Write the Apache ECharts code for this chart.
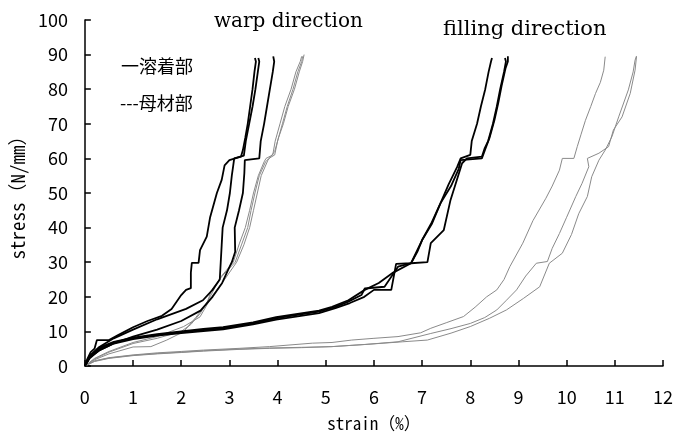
<!DOCTYPE html>
<html><head><meta charset="utf-8">
<script src="https://cdn.jsdelivr.net/npm/echarts@6/dist/echarts.min.js"></script>
<style>html,body{margin:0;padding:0;background:#fff}#c{width:676px;height:438px}</style>
</head><body><div id="c"></div>
<script>
// x tick labels and y tick labels
const xTicks = [0,1,2,3,4,5,6,7,8,9,10,11,12];
const yTicks = [0,10,20,30,40,50,60,70,80,90,100];
// warp direction, 溶着部 (black)
const warpWeld1 = [[0,0],[0.05,2],[0.12,4],[0.2,5],[0.25,7.5],[0.5,7.5],[0.7,9],[1.0,11.2],[1.3,13],[1.6,14.5],[1.8,16.5],[1.9,18.5],[2.0,20.5],[2.1,22],[2.2,22.5],[2.2,27],[2.22,29.8],[2.36,29.8],[2.39,33.5],[2.53,37.4],[2.6,43],[2.74,50],[2.84,53.8],[2.9,58],[3.0,59.5],[3.24,60.5],[3.28,62.4],[3.33,66],[3.38,70],[3.43,75],[3.48,80],[3.52,85],[3.55,88],[3.53,89]];
const warpWeld2 = [[0,0],[0.1,3],[0.3,5.5],[0.6,8],[1.0,10.5],[1.5,13.5],[1.8,15],[2.1,16.5],[2.45,19],[2.65,22],[2.8,25],[2.82,30],[2.84,35],[2.86,40],[2.95,45],[3.01,50],[3.05,55],[3.08,58],[3.1,60],[3.3,60.8],[3.34,65],[3.41,70],[3.48,75],[3.54,80],[3.59,85],[3.62,88],[3.6,89]];
const warpWeld3 = [[0,0],[0.1,2.5],[0.3,4.5],[0.6,6.5],[1.0,8.5],[1.5,10.5],[2.0,13],[2.4,16],[2.65,20],[2.85,24],[2.98,28],[3.05,30],[3.12,33],[3.11,40],[3.2,45],[3.28,50],[3.31,55.7],[3.32,59.5],[3.62,60],[3.65,65],[3.72,70],[3.78,75],[3.84,80],[3.9,85],[3.93,88],[3.91,89.5]];
// warp direction, 母材部 (grey)
const warpBase1 = [[0,0],[0.2,2],[0.5,4],[1.0,6.5],[1.5,8],[2.0,10],[2.2,12],[2.4,15.3],[2.6,20],[2.8,25.4],[3.08,30],[3.21,35.5],[3.33,40],[3.42,45],[3.5,50],[3.6,55],[3.72,59],[3.76,60],[3.9,61],[3.95,65],[4.05,70],[4.15,75],[4.28,80],[4.38,85],[4.47,88],[4.5,89.5]];
const warpBase2 = [[0,0],[0.2,1.8],[0.5,3.5],[1.0,5.5],[1.37,5.6],[1.7,7.5],[2.05,9.9],[2.3,14],[2.53,18],[2.63,22],[2.85,26],[3.12,30],[3.25,35],[3.38,40],[3.45,45],[3.53,50],[3.62,55],[3.75,59],[3.82,60],[3.94,61],[4.0,65],[4.1,70],[4.2,75],[4.32,80],[4.42,85],[4.5,88],[4.52,89.5]];
const warpBase3 = [[0,0],[0.2,2.2],[0.5,4.2],[1.0,6.8],[1.5,8.5],[2.05,11.4],[2.39,14.2],[2.63,20],[2.9,25],[3.15,30],[3.3,35],[3.42,40],[3.5,45],[3.58,50],[3.66,55],[3.8,59.5],[3.94,62],[4.02,66],[4.12,70],[4.22,75],[4.35,80],[4.45,85],[4.52,88],[4.55,90]];
// filling direction, 溶着部 (black)
const fillWeld1 = [[0,0],[0.1,2.5],[0.3,5],[0.6,6.8],[1.0,8],[1.5,9],[2.0,9.8],[2.46,10.4],[2.87,10.9],[3.49,12.3],[3.97,13.8],[4.38,14.7],[4.86,15.7],[5.2,17.1],[5.47,18.6],[5.74,20.5],[5.81,22.4],[6.22,22.9],[6.5,28.7],[6.77,29.7],[7.0,36.4],[7.2,41.5],[7.38,47],[7.55,52.5],[7.73,57.6],[7.8,60],[8.0,61],[8.03,65],[8.14,70],[8.22,75],[8.31,80],[8.38,85],[8.43,88],[8.45,89]];
const fillWeld2 = [[0,0],[0.1,2.2],[0.3,4.6],[0.6,6.5],[1.0,7.8],[1.5,8.8],[2.0,9.5],[2.46,10.1],[2.87,10.6],[3.49,12.0],[3.97,13.4],[4.38,14.3],[4.86,15.3],[5.2,16.7],[5.5,18.2],[5.8,20],[6.0,22],[6.36,22],[6.46,29.5],[6.77,29.7],[7.11,30],[7.18,35.5],[7.45,39.3],[7.59,48],[7.83,58.6],[7.93,60],[8.24,60.5],[8.3,63],[8.37,65],[8.47,70],[8.55,75],[8.62,80],[8.7,85],[8.74,88],[8.72,89]];
const fillWeld3 = [[0,0],[0.1,2.8],[0.3,5.3],[0.6,7.0],[1.0,8.2],[1.5,9.2],[2.0,10],[2.46,10.7],[2.87,11.2],[3.49,12.6],[3.97,14.1],[4.38,15.0],[4.86,16.0],[5.13,17.1],[5.47,19],[5.81,22],[6.1,24],[6.4,27],[6.77,29.7],[6.9,33],[7.0,36.4],[7.2,41],[7.38,47],[7.6,52],[7.76,57],[7.8,59.5],[8.24,60],[8.32,63],[8.4,66],[8.5,71],[8.58,76],[8.65,81],[8.73,86],[8.78,88],[8.78,89.5]];
// filling direction, 母材部 (grey)
const fillBase1 = [[0,0],[0.2,1.5],[0.5,2.4],[1.0,3.2],[1.5,3.8],[2.0,4.2],[2.46,4.6],[3.2,5.1],[3.83,5.6],[4.72,6.6],[5.13,6.8],[5.54,7.5],[6.0,8],[6.5,8.5],[6.97,9.6],[7.18,10.9],[7.5,12.5],[7.86,14.3],[8.1,17],[8.34,20],[8.55,22],[8.7,25],[8.82,28.7],[9.09,35.5],[9.3,42],[9.57,48.5],[9.7,52],[9.85,56.6],[9.91,60],[10.15,60],[10.22,63.4],[10.3,67],[10.39,71],[10.5,75],[10.6,78.8],[10.7,82],[10.77,85.5],[10.8,89.4]];
const fillBase2 = [[0,0],[0.2,1.3],[0.5,2.2],[1.0,3],[1.5,3.5],[2.0,3.9],[2.46,4.3],[3.2,4.8],[3.83,5.1],[4.5,5.3],[5.13,5.6],[5.8,6.2],[6.5,7.0],[7.18,9.4],[7.6,10.8],[8.0,12.3],[8.3,14],[8.55,16.2],[8.75,19],[8.96,22],[9.15,26],[9.37,29.7],[9.6,30.2],[9.7,34],[9.85,38.3],[10.0,43],[10.19,49],[10.32,52.8],[10.46,57.6],[10.43,60],[10.67,61.5],[10.87,63.4],[10.97,68.2],[11.15,72],[11.32,78.8],[11.42,85.5],[11.45,89.4]];
const fillBase3 = [[0,0],[0.2,1.4],[0.5,2.3],[1.0,3.1],[1.5,3.6],[2.0,4.0],[2.46,4.4],[3.2,4.9],[3.83,5.2],[4.5,5.4],[5.13,5.6],[6.0,6.4],[6.6,7.0],[7.11,7.5],[7.6,9.5],[8.0,11.4],[8.4,13.8],[8.75,16.2],[9.1,19.5],[9.44,22.9],[9.64,29.7],[9.91,32.6],[10.1,38],[10.25,44],[10.43,49],[10.52,54.7],[10.67,59.5],[10.8,62.4],[10.94,66.3],[11.08,72],[11.28,79.8],[11.38,85],[11.42,88.4],[11.45,89.6]];

const weldCurves = [warpWeld1, warpWeld2, warpWeld3, fillWeld1, fillWeld2, fillWeld3];
const baseCurves = [warpBase1, warpBase2, warpBase3, fillBase1, fillBase2, fillBase3];

const chart = echarts.init(document.getElementById('c'), null, {renderer:'canvas'});
const series = [];
baseCurves.forEach((d,i)=>series.push({type:'line', name:'母材部'+i, data:d, showSymbol:false, symbol:'none', lineStyle:{color:'#8a8a8a', width:1}, z:2, animation:false}));
weldCurves.forEach((d,i)=>series.push({type:'line', name:'溶着部'+i, data:d, showSymbol:false, symbol:'none', lineStyle:{color:'#000', width:1.8}, z:3, animation:false}));

const labelFont = '"Noto Sans CJK JP", "DejaVu Sans", sans-serif';
const monoFont = '"Noto Sans Mono CJK JP", "Noto Sans CJK JP", sans-serif';
const serifFont = '"DejaVu Serif", "Liberation Serif", serif';
chart.setOption({
  animation:false,
  grid:{left:80, right:11, top:20, bottom:72, containLabel:false},
  xAxis:{type:'value', min:0, max:12, interval:1,
    name:'strain（%）', nameLocation:'middle', nameGap:49,
    nameTextStyle:{fontSize:17, color:'#000', fontFamily:monoFont},
    axisLine:{show:true, lineStyle:{color:'#000', width:1.5}},
    axisTick:{show:true, inside:true, length:6, lineStyle:{color:'#000', width:1.5}},
    axisLabel:{fontSize:18, color:'#000', margin:22, fontFamily:labelFont,
      formatter:(v)=>xTicks.includes(v)?String(v):''},
    splitLine:{show:false}},
  yAxis:{type:'value', min:0, max:100, interval:10,
    name:'stress（N/mm）', nameLocation:'middle', nameGap:54,
    nameTextStyle:{fontSize:19, color:'#000', fontFamily:monoFont},
    axisLine:{show:true, lineStyle:{color:'#000', width:1.5}},
    axisTick:{show:true, inside:true, length:6, lineStyle:{color:'#000', width:1.5}},
    axisLabel:{fontSize:18, color:'#000', margin:17, fontFamily:labelFont,
      formatter:(v)=>yTicks.includes(v)?String(v):''},
    splitLine:{show:false}},
  graphic:[
    {type:'text', x:214, y:22, style:{text:'warp direction', font:'20px '+serifFont, fill:'#000', verticalAlign:'middle'}},
    {type:'text', x:443, y:30, style:{text:'filling direction', font:'21px '+serifFont, fill:'#000', verticalAlign:'middle'}},
    {type:'text', x:121, y:66, style:{text:'一溶着部', font:'18px "Noto Sans CJK JP", sans-serif', fill:'#000', verticalAlign:'middle'}},
    {type:'text', x:120, y:103, style:{text:'---母材部', font:'18px "Noto Sans CJK JP", sans-serif', fill:'#000', verticalAlign:'middle'}}
  ],
  series:series
});
</script></body></html>
